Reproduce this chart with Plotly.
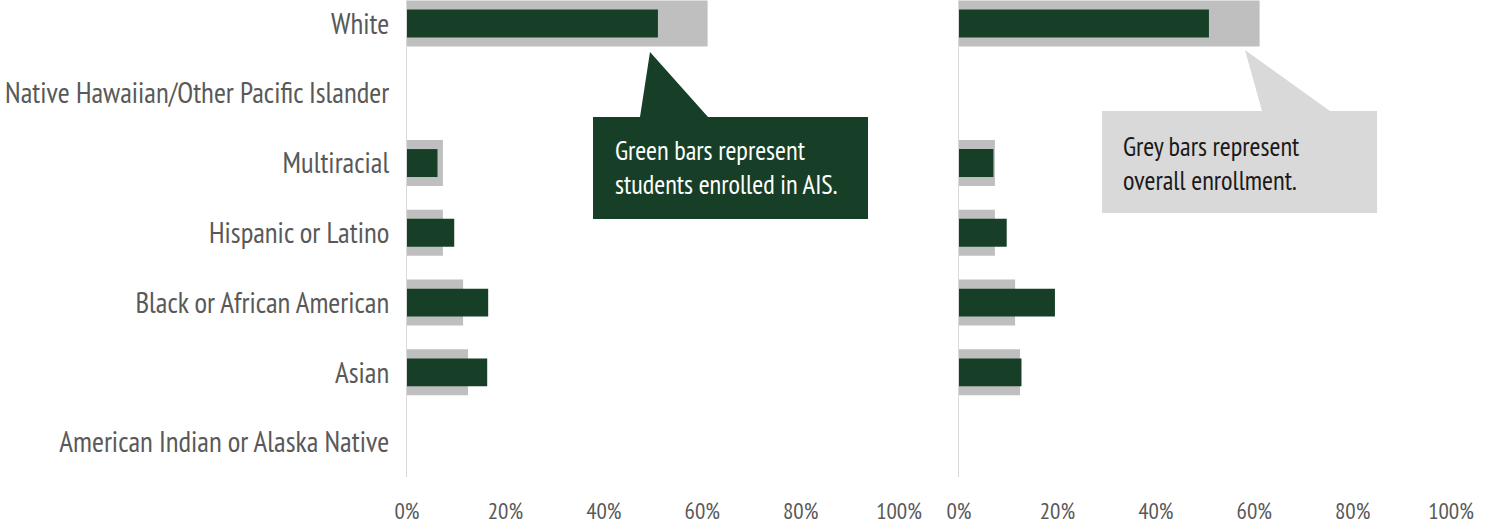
import plotly.graph_objects as go

# Race / ethnicity groups, bottom to top
categories = [
    "American Indian or Alaska Native",
    "Asian",
    "Black or African American",
    "Hispanic or Latino",
    "Multiracial",
    "Native Hawaiian/Other Pacific Islander",
    "White",
]

# Share of overall enrollment (grey bars), same in both panels
overall_share = [0.0, 0.124, 0.114, 0.073, 0.073, 0.0, 0.611]
# Share of AIS enrollment (green bars)
ais_share_left = [0.0, 0.163, 0.165, 0.096, 0.062, 0.0, 0.510]
ais_share_right = [0.0, 0.127, 0.195, 0.097, 0.070, 0.0, 0.508]

x_ticks = [0, 0.2, 0.4, 0.6, 0.8, 1.0]

GREEN = "#173F27"
GREY_BAR = "#BFBFBF"
CALLOUT_GREY = "#D9D9D9"
LABEL = "#595959"
FONT = "PT Sans Narrow, Liberation Sans Narrow, Roboto Condensed, DejaVu Sans Condensed, sans-serif"

W, H = 1494, 529
MB = 52
PLOT_H = H - MB

fig = go.Figure()

for axis_id, ais in (("", ais_share_left), ("2", ais_share_right)):
    fig.add_trace(go.Bar(
        y=categories, x=overall_share, orientation="h",
        marker=dict(color=GREY_BAR, line=dict(width=0)),
        width=0.66, xaxis="x" + axis_id, yaxis="y" + axis_id,
        showlegend=False, hoverinfo="skip",
    ))
    fig.add_trace(go.Bar(
        y=categories, x=ais, orientation="h",
        marker=dict(color=GREEN, line=dict(width=0)),
        width=0.40, xaxis="x" + axis_id, yaxis="y" + axis_id,
        showlegend=False, hoverinfo="skip",
    ))


def px(x):
    return x / W


def py(y):
    return (PLOT_H - y) / PLOT_H


xaxis_common = dict(
    range=[0, 1], tickvals=x_ticks, tickformat=".0%",
    showgrid=False, zeroline=False, showline=False,
    ticks="outside", ticklen=13, tickcolor="rgba(0,0,0,0)",
    tickfont=dict(family=FONT, size=23, color=LABEL),
    fixedrange=True, automargin=False,
)
yaxis_common = dict(
    type="category", categoryorder="array", categoryarray=categories,
    range=[-0.5, 6.337],
    showgrid=False, zeroline=False,
    showline=True, linecolor="#D9D9D9", linewidth=1,
    fixedrange=True, automargin=False,
)

fig.update_layout(
    width=W, height=H,
    margin=dict(l=0, r=0, t=0, b=MB, autoexpand=False),
    paper_bgcolor="white", plot_bgcolor="white",
    barmode="overlay", showlegend=False,
    xaxis=dict(domain=[407 / W, 899 / W], anchor="y", **xaxis_common),
    xaxis2=dict(domain=[959 / W, 1451 / W], anchor="y2", **xaxis_common),
    yaxis=dict(anchor="x", ticks="outside", ticklen=11, tickcolor="rgba(0,0,0,0)",
               tickfont=dict(family=FONT, size=29, color=LABEL), **yaxis_common),
    yaxis2=dict(anchor="x2", showticklabels=False, ticks="", **yaxis_common),
)

# Callout for the green bars
fig.add_shape(
    type="path", xref="paper", yref="paper",
    path=(f"M {px(593)},{py(117)} L {px(640)},{py(117)} L {px(650)},{py(52)} "
          f"L {px(708)},{py(117)} L {px(868)},{py(117)} L {px(868)},{py(219)} "
          f"L {px(593)},{py(219)} Z"),
    fillcolor=GREEN, line=dict(width=0), layer="above",
)
fig.add_annotation(
    xref="paper", yref="paper", x=px(613), y=py(167),
    xanchor="left", yanchor="middle", align="left", showarrow=False,
    text="Green bars represent<br>students enrolled in AIS.",
    font=dict(family=FONT, size=26.5, color="white"),
)

# Callout for the grey bars
fig.add_shape(
    type="path", xref="paper", yref="paper",
    path=(f"M {px(1102)},{py(111)} L {px(1262)},{py(111)} L {px(1245)},{py(50)} "
          f"L {px(1330)},{py(111)} L {px(1377)},{py(111)} L {px(1377)},{py(213)} "
          f"L {px(1102)},{py(213)} Z"),
    fillcolor=CALLOUT_GREY, line=dict(width=0), layer="above",
)
fig.add_annotation(
    xref="paper", yref="paper", x=px(1121), y=py(163),
    xanchor="left", yanchor="middle", align="left", showarrow=False,
    text="Grey bars represent<br>overall enrollment.",
    font=dict(family=FONT, size=26.5, color="#1A1A1A"),
)

fig.write_html("out.html")
